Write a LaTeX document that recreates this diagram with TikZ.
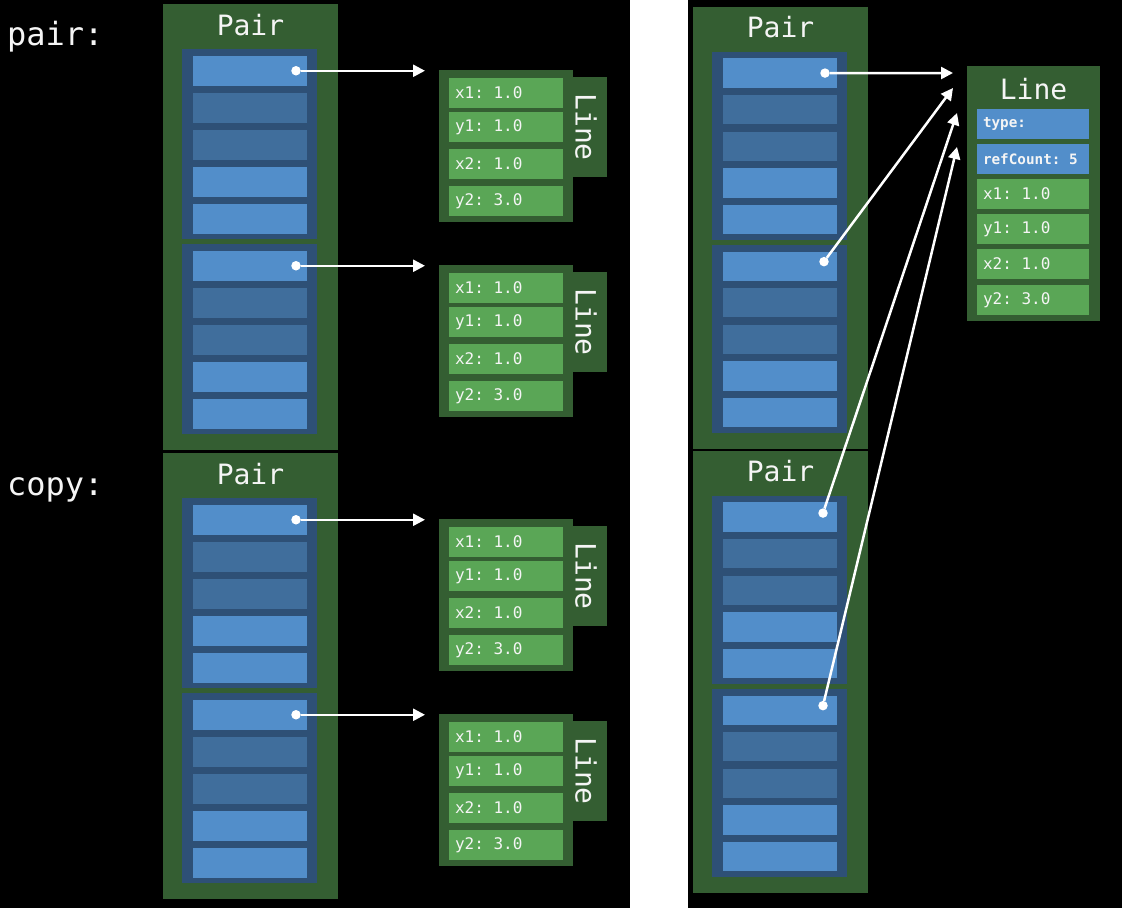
\documentclass[tikz,border=0pt]{standalone}
\usepackage{fontspec}
\usetikzlibrary{arrows.meta}
\newfontfamily\monof{DejaVu Sans Mono}
\frenchspacing
\newcommand{\ffont}{\monof\fontsize{16}{18}\selectfont\frenchspacing}
\newcommand{\bfont}{\monof\bfseries\fontsize{14.3}{16}\selectfont\frenchspacing}
\definecolor{pairgreen}{RGB}{52,94,50}
\definecolor{fieldgreen}{RGB}{90,166,86}
\definecolor{frameblue}{RGB}{46,80,118}
\definecolor{slotlight}{RGB}{82,142,202}
\definecolor{slotdark}{RGB}{64,110,156}
\definecolor{txtwhite}{RGB}{245,245,245}
\tikzset{
  every node/.style={inner sep=0pt, outer sep=0pt},
  pairbg/.style={rectangle, fill=pairgreen, minimum width=175pt, anchor=north west},
  framebox/.style={rectangle, fill=frameblue, minimum width=135pt, anchor=north west},
  slotL/.style={rectangle, fill=slotlight, minimum width=114pt, anchor=north west},
  slotD/.style={rectangle, fill=slotdark, minimum width=114pt, anchor=north west},
  titletext/.style={text=txtwhite, font=\monof\fontsize{28}{30}\selectfont},
  bigtext/.style={text=txtwhite, font=\monof\fontsize{32}{34}\selectfont\frenchspacing},
  linebg/.style={rectangle, fill=pairgreen, minimum width=134pt, minimum height=152pt, anchor=north west},
  tabbox/.style={rectangle, fill=pairgreen, minimum width=34pt, minimum height=100pt, anchor=north west},
  fieldbox/.style={rectangle, fill=fieldgreen, anchor=north west, minimum height=30pt, minimum width=114pt},
  rfield/.style={fieldbox, minimum width=112pt, minimum height=29.5pt},
  rblue/.style={rfield, fill=slotlight},
  ftext/.style={text=txtwhite, anchor=west},
  dotnode/.style={circle, fill=white, minimum size=9.5pt},
  ptr/.style={draw=white, line width=2.5pt, -{Triangle[length=12pt,width=12pt]}},
}
\newcommand{\mkpair}[4]{%
  \begin{scope}[shift={(#2,#3)}]
  \node[pairbg, minimum height={446*#4}] (#1) at (163,0) {};
  \node[titletext, anchor=base] (#1-title) at (250.5,{31*#4}) {Pair};
  \foreach \f in {1,2}{
    \node[framebox, minimum height={190*#4}] (#1-f\f) at (182,{(45+195*(\f-1))*#4}) {};
    \foreach \k/\c in {1/slotL,2/slotD,3/slotD,4/slotL,5/slotL}{
      \node[\c, minimum height={29.5*#4}] (#1-f\f-s\k) at (193,{(52+195*(\f-1)+37*(\k-1))*#4}) {};
    }
  }
  \end{scope}}
% field: name, x, y, text, style
\newcommand{\mkfield}[5]{%
  \node[#5] (#1) at (#2,#3) {};
  \node[ftext] (#1-txt) at ([xshift=6pt]#1.west) {#4};
}
\newcommand{\mkline}[2]{%
  \node[linebg] (#1) at (439,#2) {};
  \node[tabbox] (#1-tab) at (573,{#2+7}) {};
  \node[titletext, rotate=-90] (#1-lbl) at (586,{#2+57}) {Line};
  \mkfield{#1-x1}{449}{{#2+8}}{\ffont x1: 1.0}{fieldbox}
  \mkfield{#1-y1}{449}{{#2+42}}{\ffont y1: 1.0}{fieldbox}
  \mkfield{#1-x2}{449}{{#2+79}}{\ffont x2: 1.0}{fieldbox}
  \mkfield{#1-y2}{449}{{#2+116}}{\ffont y2: 3.0}{fieldbox}
}
\begin{document}
\begin{tikzpicture}[x=1pt,y=-1pt]
\useasboundingbox (0,0) rectangle (1122,908);
\fill[black] (0,0) rectangle (630,908);
\fill[white] (630,0) rectangle (688,908);
\fill[black] (688,0) rectangle (1122,908);

% ---------- left panel ----------
\node[bigtext, anchor=base west] (lblpair) at (7,45) {pair:};
\node[bigtext, anchor=base west] (lblcopy) at (7,495) {copy:};

\mkpair{pA}{0}{4}{1}
\mkpair{pB}{0}{453}{1}

\mkline{LA}{70}
\mkline{LB}{265}
\mkline{LC}{519}
\mkline{LD}{714}

\node[dotnode] (pA-d1) at ([xshift=-11pt]pA-f1-s1.east) {};
\node[dotnode] (pA-d2) at ([xshift=-11pt]pA-f2-s1.east) {};
\node[dotnode] (pB-d1) at ([xshift=-11pt]pB-f1-s1.east) {};
\node[dotnode] (pB-d2) at ([xshift=-11pt]pB-f2-s1.east) {};

\draw[ptr, shorten >=14pt] (pA-d1) -- (pA-d1 -| LA.west);
\draw[ptr, shorten >=14pt] (pA-d2) -- (pA-d2 -| LB.west);
\draw[ptr, shorten >=14pt] (pB-d1) -- (pB-d1 -| LC.west);
\draw[ptr, shorten >=14pt] (pB-d2) -- (pB-d2 -| LD.west);

% ---------- right panel ----------
\mkpair{rA}{530}{7}{0.99}
\mkpair{rB}{530}{451}{0.99}

\node[linebg, minimum width=133pt, minimum height=255pt] (RL) at (967,66) {};
\node[titletext, anchor=base] (RL-title) at (1033.5,99) {Line};
\mkfield{RL-type}{977}{109}{\bfont type:}{rblue}
\mkfield{RL-rc}{977}{144}{\bfont refCount: 5}{rblue}
\mkfield{RL-x1}{977}{179}{\ffont x1: 1.0}{rfield}
\mkfield{RL-y1}{977}{214}{\ffont y1: 1.0}{rfield}
\mkfield{RL-x2}{977}{249}{\ffont x2: 1.0}{rfield}
\mkfield{RL-y2}{977}{285}{\ffont y2: 3.0}{rfield}

\coordinate (rt1) at (953,73);
\coordinate (rt2) at (953,88);
\coordinate (rt3) at (957,113);
\coordinate (rt4) at (957,147);

\node[dotnode] (rA-d1) at ([xshift=-12pt]rA-f1-s1.east) {};
\node[dotnode] (rA-d2) at ([xshift=-13pt,yshift=4.5pt]rA-f2-s1.east) {};
\node[dotnode] (rB-d1) at ([xshift=-14pt,yshift=4pt]rB-f1-s1.east) {};
\node[dotnode] (rB-d2) at ([xshift=-14pt,yshift=4.5pt]rB-f2-s1.east) {};

\draw[ptr] (rA-d1) -- (rt1);
\draw[ptr] (rA-d2) -- (rt2);
\draw[ptr] (rB-d1) -- (rt3);
\draw[ptr] (rB-d2) -- (rt4);
\end{tikzpicture}
\end{document}
